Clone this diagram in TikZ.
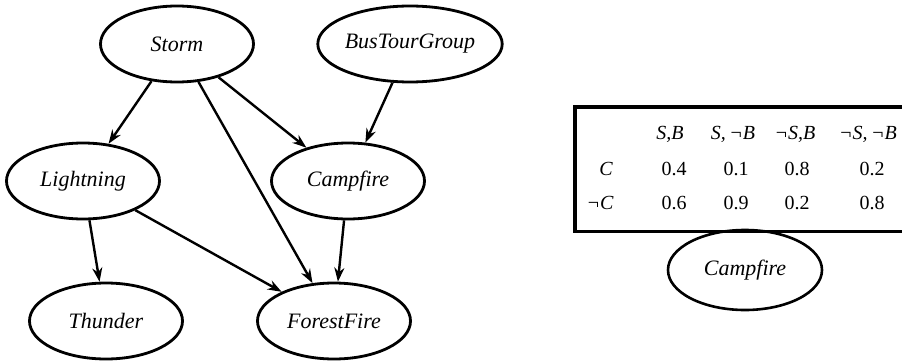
\documentclass[tikz,border=0pt]{standalone}
\usepackage{fontspec}
\setmainfont{Liberation Serif}
\usetikzlibrary{shapes.geometric,arrows.meta}
\begin{document}
\begin{tikzpicture}[x=1pt,y=-1pt,
  var/.style={ellipse,draw,line width=2.8pt,minimum width=153pt,minimum height=76pt,inner sep=0pt,font=\fontsize{22}{24}\selectfont\itshape},
  edge/.style={line width=2.4pt,-{Stealth[length=14pt,width=10pt]}},
  cell/.style={font=\fontsize{20}{22}\selectfont,inner sep=0pt,anchor=base},
  icell/.style={cell,font=\fontsize{20}{22}\selectfont\itshape}]
\useasboundingbox (0,0) rectangle (902,361);
\clip (0,0) rectangle (902,361);
\node[var] (storm) at (177,44) {Storm};
\node[var,minimum width=160pt] (bus) at (410,44) {BusTourGroup};
\node[var] (light) at (83,181) {Lightning};
\node[var] (camp) at (348,181) {Campfire};
\node[var] (thunder) at (106,321) {Thunder};
\node[var] (forest) at (334,321) {ForestFire};
\draw[edge] (storm) -- (light);
\draw[edge] (storm) -- (forest);
\draw[edge] (storm) -- (camp);
\draw[edge] (bus) -- (camp);
\draw[edge] (light) -- (thunder);
\draw[edge] (light) -- (forest);
\draw[edge] (camp) -- (forest);
\node[minimum width=420pt,minimum height=124pt,anchor=north west,inner sep=0pt] (cpt) at (575,107) {};
\draw[line width=3.2pt] (cpt.north east) -- (cpt.north west) -- (cpt.south west) -- (cpt.south east);
\node[icell] (h1) at (670,139) {S,B};
\node[icell] (h2) at (733,139) {S,\,¬B};
\node[icell] (h3) at (795,139) {¬S,B};
\node[icell] (h4) at (868,139) {¬S,\,¬B};
\node[icell] (r1) at (606,175) {C};
\node[cell] (a1) at (674,175) {0.4};
\node[cell] (a2) at (736,175) {0.1};
\node[cell] (a3) at (797,175) {0.8};
\node[cell] (a4) at (872,175) {0.2};
\node[icell] (r2) at (600,209) {¬C};
\node[cell] (b1) at (674,209) {0.6};
\node[cell] (b2) at (736,209) {0.9};
\node[cell] (b3) at (797,209) {0.2};
\node[cell] (b4) at (872,209) {0.8};
\node[var,minimum width=154pt,minimum height=80pt,line width=2.6pt] (camp2) at (745,270) {Campfire};
\end{tikzpicture}
\end{document}
